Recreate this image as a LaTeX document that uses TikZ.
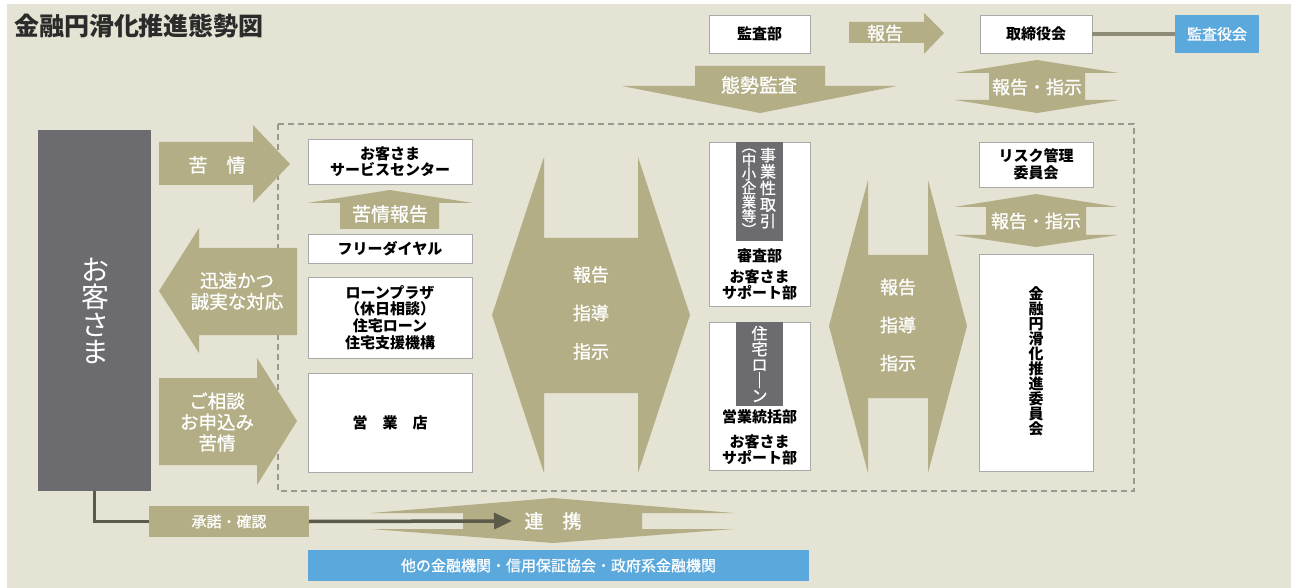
\documentclass[tikz,border=0pt]{standalone}
\usepackage{fontspec}
\setmainfont{Noto Sans CJK JP}
\newfontfamily\medfont{Noto Sans CJK JP}[FakeBold=1]
\usetikzlibrary{arrows.meta}
\definecolor{bg}{HTML}{E5E3D3}
\definecolor{olive}{HTML}{B3AE85}
\definecolor{darkbox}{HTML}{6B6B70}
\definecolor{bluebox}{HTML}{5BA8DC}
\definecolor{boxline}{HTML}{A9A9A9}
\definecolor{dashc}{HTML}{9A998F}
\definecolor{linkline}{HTML}{5C5B4A}
\definecolor{graylink}{HTML}{8E8B78}
\definecolor{titlec}{HTML}{2B2B2B}
\newcommand\myfs[2]{\fontsize{#1}{#2}\selectfont}
\begin{document}
\begin{tikzpicture}[x=1pt,y=-1pt,
  every node/.style={inner sep=0pt, outer sep=0pt},
  wbox/.style={draw=boxline, line width=0.8pt, fill=white, anchor=north west, align=center, font=\bfseries\myfs{15}{16.6}, text=black},
  bluerect/.style={fill=bluebox, anchor=north west, align=center, font=\medfont\myfs{15}{16}, text=white},
  graylabel/.style={fill=darkbox, anchor=north west},
  olivefill/.style={fill=olive},
  wtext/.style={text=white, align=center, font=\medfont\myfs{18}{21}},
  btext/.style={text=black, align=center, font=\bfseries\myfs{15}{16.6}},
  vtext/.style={text=white, align=center},
]
\useasboundingbox (0,0) rectangle (1291,588);
\fill[white] (0,0) rectangle (1291,588);
\fill[bg] (7,4) rectangle (1291,588);

% title
\node[anchor=west, text=titlec, font=\bfseries\myfs{25}{28}] (title) at (14,26) {金融円滑化推進態勢図};

% dashed frame
\draw[dashc, line width=1.8pt, dash pattern=on 6pt off 4pt] (278,124) rectangle (1134,491);

% top row
\node[wbox, minimum width=101pt, minimum height=38pt] (kansa) at (709,15) {監査部};
\node[wbox, minimum width=112pt, minimum height=38pt] (torishimari) at (980,15) {取締役会};
\node[bluerect, minimum width=84pt, minimum height=38pt] (kansayaku) at (1175,15) {監査役会};
\draw[graylink, line width=3.5pt] (torishimari.east) -- (kansayaku.west);

% top arrows
\fill[olivefill] (849,22) -- (924,22) -- (924,13) -- (944,33) -- (924,54) -- (924,43) -- (849,43) -- cycle;
\node[wtext] (hokokuA) at (885,33) {報告};
\fill[olivefill] (695,66) -- (825,66) -- (825,86) -- (897,86) -- (760,113) -- (622,86) -- (695,86) -- cycle;
\node[wtext, font=\medfont\myfs{19}{21}] (taisei) at (759,85) {態勢監査};
\fill[olivefill] (1037,60) -- (1119,73) -- (1085,73) -- (1085,100) -- (1119,100) -- (1037,113) -- (955,100) -- (989,100) -- (989,73) -- (955,73) -- cycle;
\node[wtext] (hsA) at (1037,87) {報告・指示};

% customer
\node[graylabel, minimum width=113pt, minimum height=361pt] (cust) at (38,130) {};
\node[vtext, font=\myfs{28}{27.5}] (custtext) at (95,311) {お\\客\\さ\\ま};

% left arrows
\fill[olivefill] (159,142) -- (253,142) -- (253,125) -- (290,164) -- (253,203) -- (253,185) -- (159,185) -- cycle;
\node[wtext, font=\medfont\myfs{19}{21}] (kujo) at (217,165) {苦　情};
\fill[olivefill] (297,248) -- (199,248) -- (199,228) -- (159,291) -- (199,353) -- (199,335) -- (297,335) -- cycle;
\node[wtext, font=\medfont\myfs{18.5}{21}] (jinsoku) at (237,291) {迅速かつ\\誠実な対応};
\fill[olivefill] (159,378) -- (257,378) -- (257,358) -- (297,421) -- (257,485) -- (257,465) -- (159,465) -- cycle;
\node[wtext, font=\medfont\myfs{18.5}{21}] (soudan) at (217,422) {ご相談\\お申込み\\苦情};

% column 2
\node[wbox, minimum width=164pt, minimum height=45pt] (csc) at (308,139) {お客さま\\サービスセンター};
\fill[olivefill] (390,190) -- (473,203) -- (439,203) -- (439,229) -- (340,229) -- (340,203) -- (307,203) -- cycle;
\node[wtext, font=\medfont\myfs{19}{21}] (kujohokoku) at (390,214) {苦情報告};
\node[wbox, minimum width=164pt, minimum height=29pt] (free) at (308,234) {フリーダイヤル};
\node[wbox, minimum width=164pt, minimum height=81pt] (loan) at (308,277) {ローンプラザ\\（休日相談）\\住宅ローン\\住宅支援機構};
\node[wbox, minimum width=164pt, minimum height=99pt] (eigyo) at (308,373) {営　業　店};

% big double arrow 1
\fill[olivefill] (492,315) -- (544,157) -- (544,238) -- (638,238) -- (638,157) -- (690,315) -- (638,473) -- (638,393) -- (544,393) -- (544,473) -- cycle;
\node[wtext, font=\medfont\myfs{18}{38.5}] (big1) at (591,313) {報告\\指導\\指示};

% column 3
\node[wbox, minimum width=101pt, minimum height=164pt] (shinsabox) at (709,142) {};
\node[graylabel, minimum width=47pt, minimum height=99pt] (shinsalabel) at (736,142) {};
\node[vtext, font=\medfont\myfs{16}{16.5}] (jigyo) at (768,188) {事\\業\\性\\取\\引};
\node[vtext, font=\medfont\myfs{14.5}{14}] (chusho) at (749,192) {︵\\中\\小\\企\\業\\等\\︶};
\node[btext] (shinsa) at (759.5,256) {審査部};
\node[btext] (support1) at (759.5,285) {お客さま\\サポート部};

\node[wbox, minimum width=101pt, minimum height=148pt] (jutakubox) at (709,322) {};
\node[graylabel, minimum width=47pt, minimum height=84pt] (jutakulabel) at (736,322) {};
\node[vtext, font=\medfont\myfs{16}{15.6}] (jutaku) at (759.5,364) {住\\宅\\ロ\\｜\\ン};
\node[btext] (eigyotokatsu) at (759.5,417) {営業統括部};
\node[btext] (support2) at (759.5,450) {お客さま\\サポート部};

% big double arrow 2
\fill[olivefill] (829,326) -- (868,180) -- (868,255) -- (928,255) -- (928,180) -- (967,326) -- (928,473) -- (928,398) -- (868,398) -- (868,473) -- cycle;
\node[wtext, font=\medfont\myfs{18}{38}] (big2) at (898,325) {報告\\指導\\指示};

% column 4
\node[wbox, minimum width=114pt, minimum height=45pt] (risk) at (979,142) {リスク管理\\委員会};
\fill[olivefill] (1036,194) -- (1118,207) -- (1086,207) -- (1086,235) -- (1118,235) -- (1036,247) -- (954,235) -- (986,235) -- (986,207) -- (954,207) -- cycle;
\node[wtext] (hsB) at (1036,221) {報告・指示};
\node[wbox, minimum width=114pt, minimum height=217pt] (suishin) at (979,254) {};
\node[btext, font=\bfseries\myfs{15}{15}] (suishintext) at (1036,361.5) {金\\融\\円\\滑\\化\\推\\進\\委\\員\\会};

% bottom
\fill[olivefill] (553,498) -- (734,513) -- (642,513) -- (642,529) -- (734,529) -- (553,543) -- (371,529) -- (463,529) -- (463,513) -- (371,513) -- cycle;
\node[wtext, font=\medfont\myfs{19}{21}] (renkei) at (553,521) {連　携};
\node[fill=olive, anchor=north west, minimum width=160pt, minimum height=31pt, text=white, font=\medfont\myfs{15}{16}] (shodaku) at (149,506) {承諾・確認};
\coordinate (renkeitip) at (512,521);
\draw[linkline, line width=3.5pt] (cust.south) |- (shodaku.west);
\draw[linkline, line width=3.5pt, -{Triangle[length=18pt, width=16pt]}] (shodaku.east) -- (renkeitip);
\node[bluerect, minimum width=501pt, minimum height=31pt] (other) at (308,550) {他の金融機関・信用保証協会・政府系金融機関};
\end{tikzpicture}
\end{document}
